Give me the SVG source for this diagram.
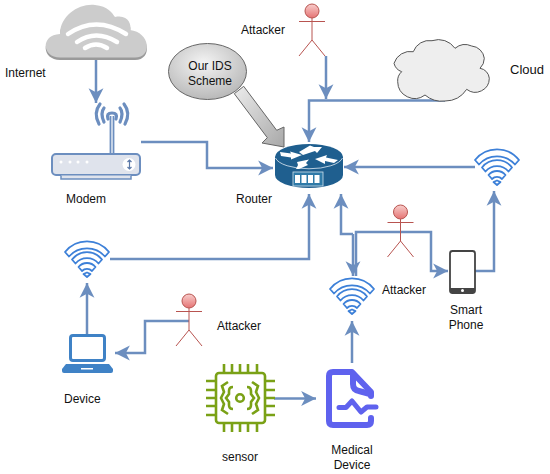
<svg xmlns="http://www.w3.org/2000/svg" xmlns:xlink="http://www.w3.org/1999/xlink" width="550" height="474" viewBox="0 0 550 474">
<style>
text{font-family:"Liberation Sans",Arial,sans-serif;font-size:12px;fill:#111}
.m{text-anchor:middle}
.c{fill:none;stroke:#6c8ebf;stroke-width:2.5;marker-end:url(#ah)}
.w{fill:#fff;stroke:#3d80d8;stroke-width:1.8;stroke-linejoin:round}
.s{fill:none;stroke:#b85450;stroke-width:1}
.g{fill:none;stroke:#7aa116;stroke-width:2.6}
</style>
<defs>
<marker id="ah" markerUnits="userSpaceOnUse" markerWidth="16" markerHeight="16" refX="13" refY="7" orient="auto" viewBox="0 0 14 14">
<path d="M13,7 L0,0.500 L3.500,7 L0,13.500 Z" fill="#6c8ebf"/>
</marker>
<radialGradient id="og" cx="0.45" cy="0.35" r="0.75"><stop offset="0" stop-color="#f4f4f4"/><stop offset="1" stop-color="#b0b0b0"/></radialGradient>
<linearGradient id="bg" x1="0" y1="0" x2="1" y2="1"><stop offset="0" stop-color="#ececec"/><stop offset="1" stop-color="#a8a8a8"/></linearGradient>
<linearGradient id="hg" x1="0" y1="0" x2="0" y2="1"><stop offset="0" stop-color="#f8cecc"/><stop offset="1" stop-color="#e57373"/></linearGradient>
<g id="wifi">
<path class="w" d="M-22,-25 A28,28 0 0 1 22,-25 L18,-20.500 A24,24 0 0 0 -18,-20.500 Z"/>
<path class="w" d="M-15,-17.500 A19,19 0 0 1 15,-17.500 L11.500,-13.500 A15,15 0 0 0 -11.500,-13.500 Z"/>
<path class="w" d="M-8.500,-10 A11,11 0 0 1 8.500,-10 L5,-6 A7,7 0 0 0 -5,-6 Z"/>
<path class="w" d="M0,0 L-3.500,-3 L0,-4.500 L3.500,-3 Z"/>
</g>
<g id="actor">
<circle cx="0" cy="0" r="7" fill="url(#hg)" stroke="#b85450"/>
<path class="s" d="M0,7 V29 M-13,10.500 H13 M0,29 L-13,45 M0,29 L13,45"/>
</g>
</defs>
<rect width="550" height="474" fill="#fff"/>

<g id="connectors">
<path class="c" d="M96,58 V103"/>
<path class="c" d="M141,142 H207 V168 H273"/>
<path class="c" d="M326,56 V99"/>
<path class="c" d="M445,100.500 H309 V142"/>
<path class="c" d="M475,167 H344"/>
<path class="c" d="M475,271 H494 V191"/>
<path class="c" d="M110,259 H309 V194"/>
<path class="c" d="M353,234 H341 V194"/>
<path class="c" d="M353,234 V276"/>
<path class="c" d="M356,276 V232 H431 V271 H448"/>
<path class="c" d="M352,363 V321"/>
<path class="c" d="M87,335 V283"/>
<path class="c" d="M189,321 H145 V353 H115"/>
<path class="c" d="M274,398.500 H316"/>
</g>

<g id="internet">
<path d="M60,60 C42,60 40,37 60,36 C60,17 80,5 95,7 C108,8 112,15 115,19 C128,16 132,27 130,32 C150,34 153,60 135,60 Z" fill="#9a9a9a"/>
<path d="M60,57.500 C42,57.500 40,35 60,34 C60,15 80,3 95,5 C108,6 112,13 115,17 C128,14 132,25 130,30 C150,32 153,57.500 135,57.500 Z" fill="#cccccc"/>
<path d="M68,34 Q96,15 126,34 M77,42 Q96,29 117,42 M85,48 Q96,41 107,48" fill="none" stroke="#fff" stroke-width="4.500" stroke-linecap="round"/>
<text x="5" y="77">Internet</text>
</g>

<g id="modem">
<path d="M110.500,153 V116 M113.500,153 V116" fill="none" stroke="#6c8ebf" stroke-width="1.800"/>
<path d="M108,119 Q106,113 112,113 Q118,113 116,119 M104,122 Q100,113 104,108 M120,122 Q124,113 120,108 M99,124 Q93,113 100,104 M125,124 Q131,113 124,104" fill="none" stroke="#6c8ebf" stroke-width="3.200" stroke-linecap="round"/>
<rect x="52" y="154" width="88" height="21" rx="4" fill="#dfe3ec" stroke="#6c8ebf" stroke-width="2"/>
<path d="M61,175.500 V179 H131 V175.500" fill="#dfe3ec" stroke="#6c8ebf" stroke-width="1.500"/>
<circle cx="61" cy="162" r="1.500" fill="#fff"/><circle cx="70" cy="162" r="1.500" fill="#fff"/><circle cx="78" cy="162" r="1.500" fill="#fff"/><circle cx="87" cy="162" r="1.500" fill="#fff"/>
<circle cx="129" cy="164.500" r="6.500" fill="#fff"/>
<path d="M129.500,160 V169 M127.500,162 L129.500,160 L131.500,162 M127.500,167 L129.500,169 L131.500,167" fill="none" stroke="#5a78a8" stroke-width="1.200"/>
<text class="m" x="86" y="203">Modem</text>
</g>

<g id="ids">
<path d="M243.700,86.300 L276.700,130.300 L284,127 L284,147 L262,143 L267.300,137.700 L234.300,93.700 Z" fill="url(#bg)" stroke="#666" stroke-width="1"/>
<ellipse cx="207.500" cy="71.500" rx="39" ry="28" fill="url(#og)" stroke="#666" stroke-width="1"/>
<text class="m" x="210" y="70">Our IDS</text>
<text class="m" x="210" y="85">Scheme</text>
</g>

<g id="attacker-top">
<use href="#actor" x="312" y="11"/>
<text x="241" y="34">Attacker</text>
</g>

<g id="cloud">
<path d="M413.300,51.700 A17,17 0 0 1 432,40.700 A20,20 0 0 1 455,48.300 A16,16 0 0 1 471.700,46 A14,14 0 0 1 484.300,58.300 A14,14 0 0 1 480,68.300 A11,11 0 0 1 489.300,78.300 A14,14 0 0 1 466.700,89.300 A26,26 0 0 1 445,101 A26,26 0 0 1 425,95 A17,17 0 0 1 397.700,81.700 A12,12 0 0 1 401.700,71.700 A12,12 0 0 1 394,63.300 A17,17 0 0 1 413.300,51.700 Z" fill="#eeeeee" stroke="#555" stroke-width="1"/>
<text x="510" y="74" style="font-size:13px">Cloud</text>
</g>

<g id="router">
<path d="M275,157 V175 A34,13 0 0 0 343,175 V157 Z" fill="#1f5f8f"/>
<ellipse cx="309" cy="157" rx="34" ry="13" fill="#1f5f8f"/>
<path d="M275.500,158 A34,13 0 0 0 342.500,158" fill="none" stroke="#dfeaf2" stroke-width="0.800"/>
<path d="M280,152 L291,153.500 L290,151.500 L302,155 L291,159.500 L291,157.500 L281,156 Z M299,152 L310,145.500 L314,147 L322,147 L317,153 L315,151 L303,155 Z M296,169 L298,165 L297,162 L309,159.500 L306,163 L308,165 L299,169 Z M315,159 L327,155 L326,157.500 L338,160 L334,163 L325,161 L325,164 Z" fill="#fff"/>
<rect x="293" y="172" width="30" height="14" fill="#2f7aa8" stroke="#cfe0ea" stroke-width="0.800"/>
<g fill="#fff"><rect x="295" y="175" width="5" height="8"/><rect x="301.500" y="175" width="5" height="8"/><rect x="308" y="175" width="5" height="8"/><rect x="314.500" y="175" width="5" height="8"/></g>
<text x="236" y="203">Router</text>
</g>

<g id="wifi-right"><use href="#wifi" x="497" y="185"/></g>
<g id="wifi-left"><use href="#wifi" x="87" y="277"/></g>
<g id="wifi-center"><use href="#wifi" x="352" y="314"/></g>

<g id="attacker-middle">
<use href="#actor" x="400.500" y="212"/>
<text x="382" y="294">Attacker</text>
</g>

<g id="phone">
<rect x="450" y="251" width="25" height="42" rx="2.500" fill="#fff" stroke="#444" stroke-width="1.800"/>
<rect x="450" y="288" width="25" height="5" fill="#444"/>
<circle cx="462.500" cy="290.500" r="1.500" fill="#fff"/>
<text class="m" x="466" y="314">Smart</text>
<text class="m" x="466" y="329">Phone</text>
</g>

<g id="device">
<rect x="70.500" y="335.500" width="34" height="25" rx="2.500" fill="#fff" stroke="#3f82c6" stroke-width="3"/>
<path d="M66,364 H109 L113,369 V371 Q113,373 111,373 H64 Q62,373 62,371 V369 Z" fill="#3f82c6"/>
<rect x="81" y="368" width="12" height="1.500" fill="#fff"/>
<text x="64" y="403">Device</text>
</g>

<g id="attacker-left">
<use href="#actor" x="189" y="301"/>
<text x="217" y="330">Attacker</text>
</g>

<g id="sensor">
<rect x="216" y="373" width="49" height="50" rx="3" class="g"/>
<path class="g" d="M224,373 V364 M232,373 V364 M240,373 V364 M248,373 V364 M257,373 V364 M224,423 V432 M232,423 V432 M240,423 V432 M248,423 V432 M257,423 V432 M216,381 H206 M216,390 H206 M216,398 H206 M216,406 H206 M216,415 H206 M265,381 H275 M265,390 H275 M265,398 H275 M265,406 H275 M265,415 H275"/>
<circle cx="240" cy="398" r="3.800" class="g"/>
<path class="g" d="M233,387 Q229,387 229,391 V394 L226,398 L229,402 V405 Q229,409 233,409 M247,387 Q251,387 251,391 V394 L254,398 L251,402 V405 Q251,409 247,409"/>
<path class="g" d="M228,382 L222,386 L224,392 L221,398 L224,404 L222,410 L228,414 M252,382 L258,386 L256,392 L259,398 L256,404 L258,410 L252,414"/>
<text class="m" x="240" y="461">sensor</text>
</g>

<g id="medical">
<path d="M371,418 V421 Q371,425 367,425 H333 Q329,425 329,421 V376 Q329,372 333,372 H352 L371,392 V396" fill="none" stroke="#5f62ee" stroke-width="6" stroke-linejoin="round" stroke-linecap="round"/>
<path d="M353,374 V384 Q353,390 359,391 L370,394" fill="none" stroke="#5f62ee" stroke-width="6" stroke-linecap="round"/>
<path d="M339,407.500 H346 L352,401 L361,412 L367,407 H376" fill="none" stroke="#5f62ee" stroke-width="5" stroke-linecap="round" stroke-linejoin="round"/>
<text class="m" x="352" y="454">Medical</text>
<text class="m" x="352" y="469">Device</text>
</g>
</svg>
